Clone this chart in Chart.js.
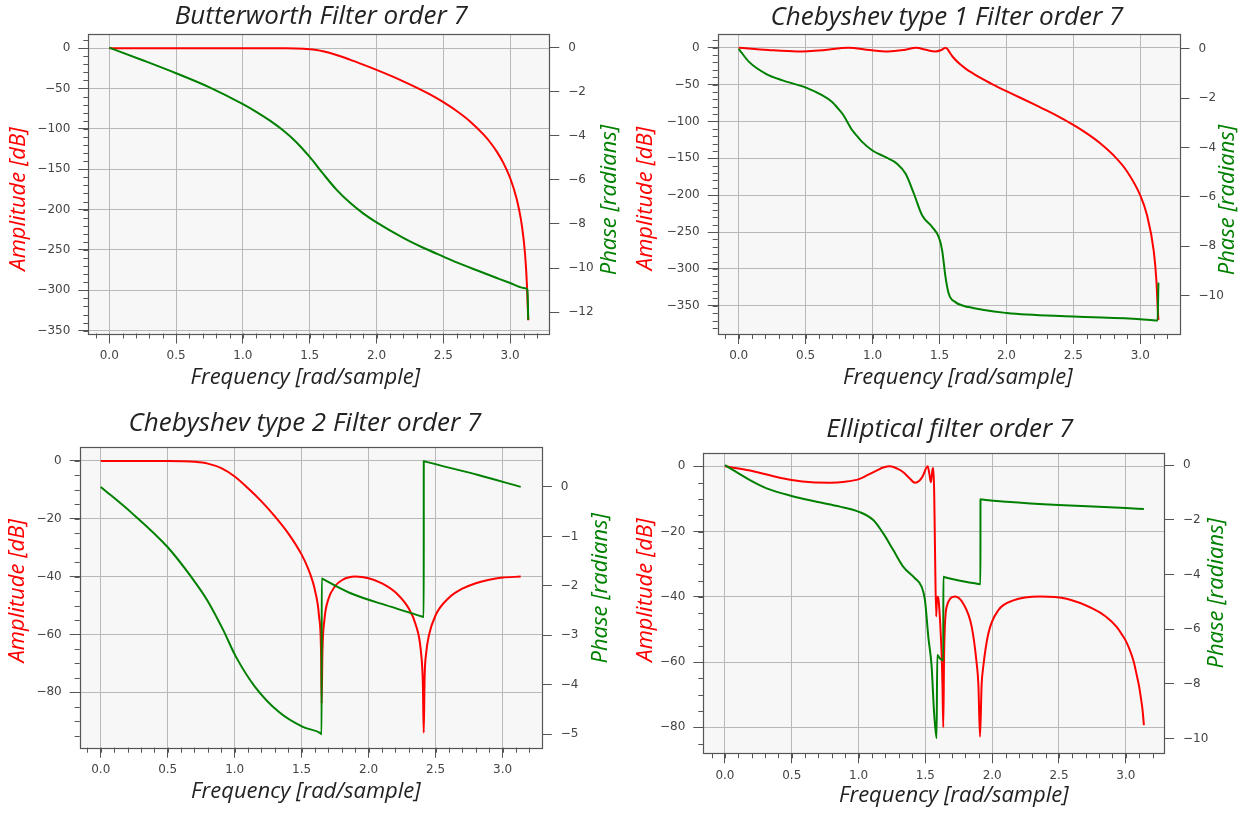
<!DOCTYPE html>
<html><head><meta charset="utf-8">
<script src="https://cdn.jsdelivr.net/npm/chart.js@4.4.1/dist/chart.umd.min.js"></script>
<style>
html,body{margin:0;padding:0;background:#fff;}
#wrap{position:relative;width:1251px;height:813px;overflow:hidden;background:#fff;}
canvas{position:absolute;}
</style></head><body><div id="wrap">
<canvas id="c1"></canvas><canvas id="c2"></canvas><canvas id="c3"></canvas><canvas id="c4"></canvas>
</div>
<script>
// ---------- shared labels ----------
const xTitleText = 'Frequency [rad/sample]';
const ampTitleText = 'Amplitude [dB]';
const phaseTitleText = 'Phase [radians]';
const xTicks = [0, 0.5, 1, 1.5, 2, 2.5, 3];
const xTickLabels = ['0.0', '0.5', '1.0', '1.5', '2.0', '2.5', '3.0'];

// ---------- Butterworth ----------
const butterTitle = 'Butterworth Filter order 7';
const butterAmpW = [0, 0.5, 1.0, 1.2, 1.3, 1.4, 1.5, 1.55, 1.6, 1.7, 1.8, 1.9, 2.0, 2.1, 2.2, 2.3, 2.4, 2.5, 2.6, 2.7, 2.8, 2.85, 2.9, 2.95, 3.0, 3.05, 3.08, 3.1, 3.11, 3.12, 3.125, 3.13, 3.1355];
const butterAmp = [0, 0, 0, -0.02, -0.09, -0.38, -1.37, -2.42, -3.98, -8.54, -14.2, -20.4, -26.9, -33.8, -41.1, -48.9, -57.4, -67.0, -77.9, -90.8, -106.9, -116.6, -128.2, -142.4, -160.9, -187.4, -211.6, -235.5, -252.2, -275.3, -291.3, -313.1, -337];
const butterPhaseW = [0, 0.25, 0.5, 0.75, 1.0, 1.1, 1.2, 1.3, 1.4, 1.5, 1.6, 1.7, 1.8, 1.9, 2.0, 2.2, 2.35, 2.5, 2.6, 2.75, 2.9, 3.0, 3.1, 3.1293, 3.1355];
const butterPhase = [0, -0.57, -1.16, -1.80, -2.56, -2.91, -3.30, -3.75, -4.29, -4.96, -5.72, -6.44, -7.03, -7.52, -7.93, -8.63, -9.08, -9.48, -9.74, -10.10, -10.45, -10.68, -10.90, -10.97, -12.35];
const butterAmpTicks = [0, -50, -100, -150, -200, -250, -300, -350];
const butterAmpTickLabels = ['0', '\u221250', '\u2212100', '\u2212150', '\u2212200', '\u2212250', '\u2212300', '\u2212350'];
const butterPhaseTicks = [0, -2, -4, -6, -8, -10, -12];
const butterPhaseTickLabels = ['0', '\u22122', '\u22124', '\u22126', '\u22128', '\u221210', '\u221212'];

// ---------- Chebyshev type 1 ----------
const cheby1Title = 'Chebyshev type 1 Filter order 7';
const cheby1AmpW = [0, 0.22, 0.438, 0.63, 0.819, 0.98, 1.116, 1.23, 1.327, 1.40, 1.467, 1.51, 1.545, 1.56, 1.571, 1.6, 1.65, 1.7, 1.75, 1.8, 1.9, 2.0, 2.1, 2.2, 2.3, 2.4, 2.5, 2.6, 2.7, 2.8, 2.9, 3.0, 3.05, 3.1, 3.12, 3.13, 3.1355];
const cheby1Amp = [0, -3.1, -5.0, -3.3, 0, -3.2, -5.0, -3.2, 0, -2.9, -5.0, -3.5, 0, -2.0, -5.0, -12.6, -21.9, -29.0, -34.8, -40.3, -50.0, -58.9, -67.5, -76.2, -85.1, -94.5, -104.7, -116.2, -129.5, -145.9, -167.5, -200.3, -226.9, -274.9, -314.8, -352.6, -369.5];
const cheby1PhaseW = [0, 0.079, 0.203, 0.328, 0.507, 0.626, 0.70, 0.738, 0.775, 0.85, 0.887, 0.924, 0.999, 1.098, 1.185, 1.247, 1.309, 1.371, 1.446, 1.495, 1.52, 1.545, 1.569, 1.619, 1.718, 2.004, 2.50, 3.0, 3.1293, 3.1355];
const cheby1Phase = [0, -0.54, -1.01, -1.28, -1.58, -1.89, -2.16, -2.39, -2.63, -3.31, -3.55, -3.78, -4.12, -4.39, -4.66, -5.06, -5.87, -6.75, -7.22, -7.63, -8.17, -9.25, -9.92, -10.26, -10.46, -10.70, -10.84, -10.95, -11.0, -9.47];
const cheby1AmpTicks = [0, -50, -100, -150, -200, -250, -300, -350];
const cheby1AmpTickLabels = ['0', '\u221250', '\u2212100', '\u2212150', '\u2212200', '\u2212250', '\u2212300', '\u2212350'];
const cheby1PhaseTicks = [0, -2, -4, -6, -8, -10];
const cheby1PhaseTickLabels = ['0', '\u22122', '\u22124', '\u22126', '\u22128', '\u221210'];

// ---------- Chebyshev type 2 ----------
const cheby2Title = 'Chebyshev type 2 Filter order 7';
const cheby2AmpW = [0, 0.5, 0.6, 0.7, 0.8, 0.9, 1.0, 1.1, 1.2, 1.3, 1.4, 1.5, 1.55, 1.58, 1.6, 1.63, 1.645, 1.6493, 1.655, 1.67, 1.7, 1.75, 1.8, 1.9, 2.0, 2.1, 2.2, 2.3, 2.35, 2.39, 2.405, 2.4115, 2.418, 2.43, 2.45, 2.5, 2.6, 2.7, 2.8, 2.9, 3.0, 3.1355];
const cheby2Amp = [0, -0.01, -0.07, -0.27, -0.91, -2.49, -5.37, -9.44, -13.97, -19.14, -25.02, -32.39, -37.37, -41.3, -44.86, -53.75, -66.4, -84.0, -66.4, -54.9, -47.76, -43.31, -41.26, -40.0, -40.55, -42.31, -45.42, -51.05, -56.37, -65.7, -77.1, -94.0, -75.0, -66.4, -60.4, -53.38, -47.31, -44.19, -42.28, -41.07, -40.35, -40.0];
const cheby2PhaseW = [0, 0.229, 0.497, 0.676, 0.795, 0.914, 1.009, 1.152, 1.331, 1.509, 1.637, 1.6493, 1.6496, 1.66, 1.866, 2.164, 2.40, 2.4115, 2.4118, 2.425, 2.818, 3.1355];
const cheby2Phase = [0, -0.52, -1.21, -1.82, -2.29, -2.89, -3.43, -4.04, -4.55, -4.85, -4.97, -5.0, -1.85, -1.865, -2.15, -2.42, -2.62, -2.63, 0.52, 0.51, 0.24, 0.0];
const cheby2AmpTicks = [0, -20, -40, -60, -80];
const cheby2AmpTickLabels = ['0', '\u221220', '\u221240', '\u221260', '\u221280'];
const cheby2PhaseTicks = [0, -1, -2, -3, -4, -5];
const cheby2PhaseTickLabels = ['0', '\u22121', '\u22122', '\u22123', '\u22124', '\u22125'];

// ---------- Elliptic ----------
const ellipTitle = 'Elliptical filter order 7';
const ellipAmpW = [0, 0.187, 0.35, 0.5, 0.65, 0.786, 0.9, 1.003, 1.07, 1.135,
  1.19, 1.235, 1.29, 1.335, 1.38, 1.422, 1.455, 1.48, 1.517, 1.53,
  1.542, 1.553, 1.56, 1.566, 1.572, 1.581, 1.587, 1.593, 1.599, 1.605,
  1.611, 1.617, 1.623, 1.628, 1.634, 1.64, 1.646, 1.652, 1.659, 1.684,
  1.722, 1.784, 1.847, 1.884, 1.897, 1.909, 1.921, 1.933, 1.971, 2.046,
  2.158, 2.358, 2.557, 2.757, 2.85, 2.932, 2.97, 3.0, 3.032, 3.06,
  3.082, 3.1, 3.115, 3.125, 3.1355];
const ellipAmp = [0, -1.3, -2.9, -4.2, -4.9, -5.0, -4.7, -3.9, -2.6, -1.3,
  -0.3, 0, -0.7, -1.8, -3.6, -5.0, -4.4, -3.0, 0, -2.3,
  -4.9, -1.0, -0.5, -8, -25, -46, -40.5, -40, -41, -44,
  -48, -53, -59, -67, -80, -58, -49, -45, -43.1, -40.6,
  -39.9, -42.1, -49.2, -60.4, -67, -82.9, -67, -61.5, -51.3, -44.1,
  -41.1, -39.9, -40.6, -43.7, -46.0, -49.2, -51.5, -53.5, -56.5, -60,
  -64, -67.5, -71.5, -74.5, -79.3];
const ellipPhaseW = [0, 0.187, 0.312, 0.499, 0.686, 0.861, 1.003, 1.11, 1.185, 1.26,
  1.335, 1.422, 1.472, 1.497, 1.522, 1.547, 1.564, 1.584, 1.589, 1.609,
  1.634, 1.6345, 1.645, 1.734, 1.90, 1.912, 1.9125, 1.925, 2.108, 2.495,
  3.0, 3.1355];
const ellipPhase = [0, -0.55, -0.85, -1.13, -1.34, -1.52, -1.71, -2.01, -2.50, -3.11,
  -3.72, -4.14, -4.45, -4.94, -6.28, -7.37, -8.96, -9.99, -6.95, -7.07,
  -7.15, -4.08, -4.10, -4.20, -4.35, -4.36, -1.25, -1.26, -1.34, -1.46,
  -1.57, -1.61];
const ellipAmpTicks = [0, -20, -40, -60, -80];
const ellipAmpTickLabels = ['0', '\u221220', '\u221240', '\u221260', '\u221280'];
const ellipPhaseTicks = [0, -2, -4, -6, -8, -10];
const ellipPhaseTickLabels = ['0', '\u22122', '\u22124', '\u22126', '\u22128', '\u221210'];

// ---------- layout / style per panel ----------
const panels = [
  { id: 'c1', left: 0, top: 0, w: 625, h: 400, area: { l: 88.3, r: 549.3, b: 333.5 }, titlePad: { top: 1.3, bottom: 1.5 },
    title: butterTitle, titleX: 321.3, xTitlePos: [305.3, 378], ampTitlePos: [18.3, 199], phTitlePos: [609.5, 200], ampMinor: 10,
    xRange: [-0.157, 3.293], ampRange: [-353.5, 17.5], phRange: [-12.97, 0.62],
    ampW: butterAmpW, amp: butterAmp, phW: butterPhaseW, ph: butterPhase,
    ampTicks: butterAmpTicks, ampLabels: butterAmpTickLabels, phTicks: butterPhaseTicks, phLabels: butterPhaseTickLabels },
  { id: 'c2', left: 625, top: 0, w: 626, h: 400, area: { l: 92.7, r: 554.5, b: 334 }, titlePad: { top: 1.6, bottom: 1.2 },
    title: cheby1Title, titleX: 321.9, xTitlePos: [332.8, 378], ampTitlePos: [20.6, 198.5], phTitlePos: [602.5, 200], ampMinor: 10,
    xRange: [-0.157, 3.293], ampRange: [-388.3, 18.6], phRange: [-11.55, 0.6],
    ampW: cheby1AmpW, amp: cheby1Amp, phW: cheby1PhaseW, ph: cheby1Phase,
    ampTicks: cheby1AmpTicks, ampLabels: cheby1AmpTickLabels, phTicks: cheby1PhaseTicks, phLabels: cheby1PhaseTickLabels },
  { id: 'c3', left: 0, top: 400, w: 625, h: 413, area: { l: 79.7, r: 541.8, b: 347.7 }, titlePad: { top: 8.1, bottom: 8.0 },
    title: cheby2Title, titleX: 304.9, xTitlePos: [305.9, 392], ampTitlePos: [17.6, 190.8], phTitlePos: [600.5, 188.3], ampMinor: 5,
    xRange: [-0.157, 3.293], ampRange: [-99.2, 4.74], phRange: [-5.27, 0.8],
    ampW: cheby2AmpW, amp: cheby2Amp, phW: cheby2PhaseW, ph: cheby2Phase,
    ampTicks: cheby2AmpTicks, ampLabels: cheby2AmpTickLabels, phTicks: cheby2PhaseTicks, phLabels: cheby2PhaseTickLabels },
  { id: 'c4', left: 625, top: 400, w: 626, h: 413, area: { l: 78.3, r: 539, b: 353.3 }, titlePad: { top: 14.4, bottom: 7.7 },
    title: ellipTitle, titleX: 324.8, xTitlePos: [328.8, 395.5], ampTitlePos: [20.6, 190], phTitlePos: [591.5, 193.3], ampMinor: 5,
    xRange: [-0.162, 3.286], ampRange: [-87.95, 4.0], phRange: [-10.54, 0.43],
    ampW: ellipAmpW, amp: ellipAmp, phW: ellipPhaseW, ph: ellipPhase,
    ampTicks: ellipAmpTicks, ampLabels: ellipAmpTickLabels, phTicks: ellipPhaseTicks, phLabels: ellipPhaseTickLabels }
];

const RED = '#ff0000', GREEN = '#008000';
const TICK_FONT = { family: 'DejaVu Sans', size: 12 };
const TICK_COLOR = '#444';
const GRID_COLOR = '#b8b8b8';
const SPINE_COLOR = '#555';
const LABEL_FONT = 'italic 22px "Open Sans"';

function labelOf(ticks, labels, v) {
  const i = ticks.findIndex(t => Math.abs(t - v) < 1e-9);
  return i >= 0 ? labels[i] : '';
}

function makeDecor(p) {
  return {
    id: 'decor',
    afterLayout(chart) {
      const t = chart.titleBlock;
      if (t) { const dx = p.titleX - (t.left + t.right) / 2; t.left += dx; t.right += dx; }
    },
    beforeDraw(chart) {
      const { ctx, chartArea: a } = chart;
      ctx.save();
      ctx.fillStyle = '#f7f7f7';
      ctx.fillRect(a.left, a.top, a.right - a.left, a.bottom - a.top);
      ctx.restore();
    },
    afterDraw(chart) {
      const { ctx, chartArea: a } = chart;
      const xs = chart.scales.x, ya = chart.scales.yA;
      ctx.save();
      // minor ticks
      ctx.strokeStyle = SPINE_COLOR; ctx.lineWidth = 1;
      ctx.beginPath();
      for (let k = Math.ceil(xs.min / 0.1 - 1e-9); k * 0.1 <= xs.max + 1e-9; k++) {
        const px = Math.round(xs.getPixelForValue(k * 0.1)) + 0.5;
        ctx.moveTo(px, a.bottom); ctx.lineTo(px, a.bottom + 5);
      }
      for (let k = Math.ceil(ya.min / p.ampMinor - 1e-9); k * p.ampMinor <= ya.max + 1e-9; k++) {
        const py = Math.round(ya.getPixelForValue(k * p.ampMinor)) + 0.5;
        ctx.moveTo(a.left, py); ctx.lineTo(a.left - 5, py);
      }
      ctx.stroke();
      // frame
      const L = Math.round(a.left) + 0.5, T = Math.round(a.top) + 0.5;
      const R = Math.round(a.right) + 0.5, B = Math.round(a.bottom) + 0.5;
      ctx.strokeStyle = SPINE_COLOR; ctx.lineWidth = 1.2;
      ctx.strokeRect(L, T, R - L, B - T);
      // axis titles
      ctx.font = LABEL_FONT; ctx.textAlign = 'center'; ctx.textBaseline = 'middle';
      ctx.fillStyle = '#222';
      ctx.fillText(xTitleText, p.xTitlePos[0], p.xTitlePos[1]);
      ctx.save(); ctx.translate(p.ampTitlePos[0], p.ampTitlePos[1]); ctx.rotate(-Math.PI / 2);
      ctx.fillStyle = RED; ctx.fillText(ampTitleText, 0, 0); ctx.restore();
      ctx.save(); ctx.translate(p.phTitlePos[0], p.phTitlePos[1]); ctx.rotate(-Math.PI / 2);
      ctx.fillStyle = GREEN; ctx.fillText(phaseTitleText, 0, 0); ctx.restore();
      ctx.restore();
    }
  };
}

function buildChart(p) {
  const cv = document.getElementById(p.id);
  cv.width = p.w; cv.height = p.h;
  cv.style.left = p.left + 'px'; cv.style.top = p.top + 'px';
  cv.style.width = p.w + 'px'; cv.style.height = p.h + 'px';
  const grid = { color: GRID_COLOR, lineWidth: 1, drawTicks: true, tickLength: 10, tickColor: SPINE_COLOR, tickWidth: 1 };
  new Chart(cv, {
    type: 'line',
    data: {
      datasets: [
        { data: p.ampW.map((x, i) => ({ x, y: p.amp[i] })), yAxisID: 'yA', borderColor: RED, borderWidth: 2,
          pointRadius: 0, cubicInterpolationMode: 'monotone', fill: false, order: 1 },
        { data: p.phW.map((x, i) => ({ x, y: p.ph[i] })), yAxisID: 'yP', borderColor: GREEN, borderWidth: 2,
          pointRadius: 0, cubicInterpolationMode: 'monotone', fill: false, order: 0 }
      ]
    },
    options: {
      responsive: false, animation: false, devicePixelRatio: 1, events: [],
      layout: { padding: 0 },
      plugins: {
        legend: { display: false }, tooltip: { enabled: false },
        title: { display: true, text: p.title, fullSize: false, color: '#222',
          font: { family: 'Open Sans', size: 26, style: 'italic', weight: 'normal', lineHeight: 1.2 },
          padding: p.titlePad }
      },
      scales: {
        x: { type: 'linear', position: 'bottom', min: p.xRange[0], max: p.xRange[1],
          afterBuildTicks: s => { s.ticks = xTicks.map(v => ({ value: v })); },
          afterFit: s => { s.height = p.h - p.area.b; },
          ticks: { autoSkip: false, maxRotation: 0, padding: 5, color: TICK_COLOR, font: TICK_FONT,
            callback: v => labelOf(xTicks, xTickLabels, v) },
          grid: grid, border: { display: false } },
        yA: { type: 'linear', position: 'left', min: p.ampRange[0], max: p.ampRange[1],
          afterBuildTicks: s => { s.ticks = p.ampTicks.map(v => ({ value: v })); },
          afterFit: s => { s.width = p.area.l; },
          ticks: { autoSkip: false, padding: 8, color: TICK_COLOR, font: TICK_FONT,
            callback: v => labelOf(p.ampTicks, p.ampLabels, v) },
          grid: grid, border: { display: false } },
        yP: { type: 'linear', position: 'right', min: p.phRange[0], max: p.phRange[1],
          afterBuildTicks: s => { s.ticks = p.phTicks.map(v => ({ value: v })); },
          afterFit: s => { s.width = p.w - p.area.r; },
          ticks: { autoSkip: false, padding: 9, color: TICK_COLOR, font: TICK_FONT,
            callback: v => labelOf(p.phTicks, p.phLabels, v) },
          grid: Object.assign({}, grid, { drawOnChartArea: false }), border: { display: false } }
      }
    },
    plugins: [makeDecor(p)]
  });
}

panels.forEach(buildChart);
</script>
</body></html>
